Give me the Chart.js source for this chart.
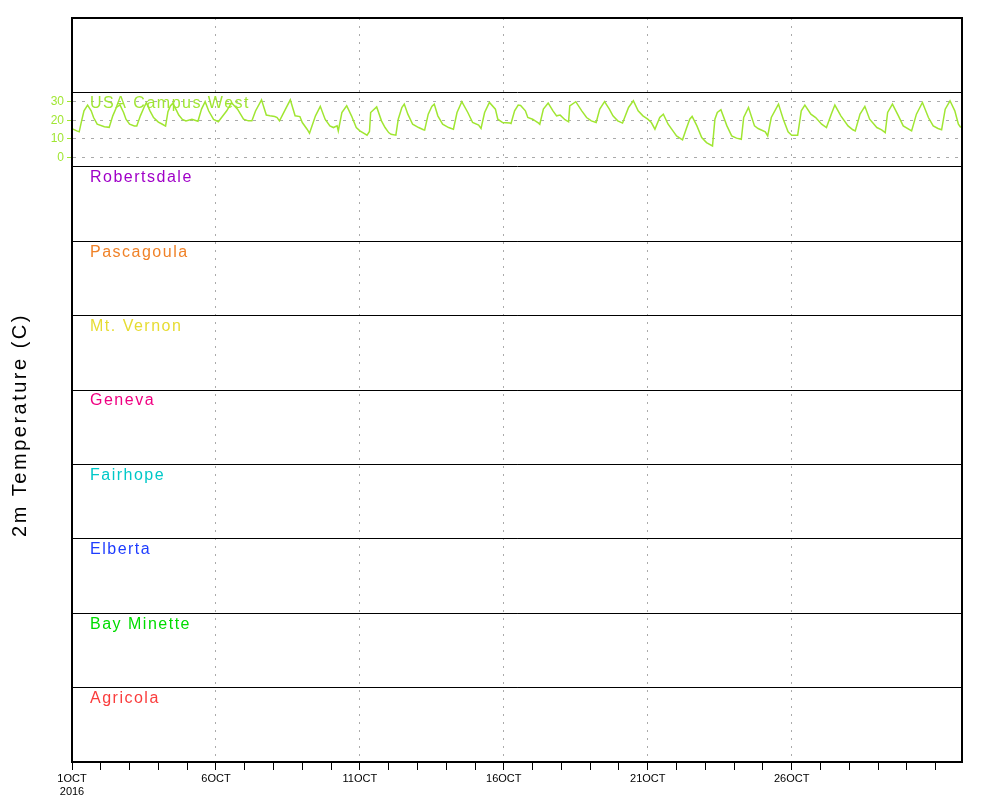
<!DOCTYPE html>
<html>
<head>
<meta charset="utf-8">
<title>2m Temperature</title>
<script src="https://cdn.jsdelivr.net/npm/chart.js@4.4.1/dist/chart.umd.min.js"></script>
<style>
  body { margin: 0; background: #fff; }
  canvas { display: block; }
</style>
</head>
<body>
<canvas id="chartTemp" width="1000" height="800"></canvas>
<script>
// Stations, top panel to bottom panel
const stations = ['USA Campus West', 'Robertsdale', 'Pascagoula', 'Mt. Vernon', 'Geneva', 'Fairhope', 'Elberta', 'Bay Minette', 'Agricola'];
const stationColors = ['rgb(160,230,50)', 'rgb(160,0,200)', 'rgb(240,130,40)', 'rgb(230,220,50)', 'rgb(240,0,130)',
    'rgb(0,200,200)', 'rgb(30,60,255)', 'rgb(0,220,0)', 'rgb(250,60,60)'];

// Hours since 1 OCT 2016 00Z and 2m temperature (C) at USA Campus West
const hours = [0, 4, 6, 8, 10, 13, 16, 18, 21, 27, 31, 34, 37, 40, 43, 45, 48, 52, 54, 57,
    60, 62, 65, 68, 72, 75, 78, 80, 82, 84, 87, 89, 92, 95, 100, 105, 108, 111, 114, 118,
    122, 129, 133, 138, 143, 147, 150, 153, 158, 162, 165, 169, 171, 173, 178, 182, 186, 190, 192, 196,
    198, 203, 207, 211, 215, 218, 221, 222, 225, 229, 233, 237, 240, 246, 248, 249, 254, 258, 261, 264,
    266, 270, 272, 275, 277, 280, 284, 289, 293, 294, 297, 300, 302, 305, 309, 314, 318, 321, 325, 330,
    334, 339, 341, 344, 348, 353, 355, 359, 365, 366, 369, 372, 374, 378, 380, 384, 389, 390, 393, 397,
    401, 404, 407, 411, 414, 415, 420, 425, 429, 433, 437, 440, 444, 448, 451, 455, 459, 464, 468, 472,
    476, 480, 483, 486, 490, 493, 497, 501, 504, 509, 512, 515, 517, 521, 525, 529, 534, 536, 538, 541,
    546, 550, 554, 558, 560, 564, 569, 572, 578, 580, 583, 589, 593, 597, 600, 605, 608, 611, 616, 620,
    625, 629, 633, 636, 641, 647, 651, 653, 657, 661, 665, 671, 675, 678, 680, 684, 689, 693, 700, 704,
    709, 714, 718, 722, 725, 728, 732, 736, 739, 741];
const usaTemp = [15.5, 14.3, 13.8, 19.7, 25.1, 28.2, 25.1, 21.5, 17.9, 16.5, 16.2, 22.4, 26.9, 28.3, 24.2, 20.6, 17.9, 17.0, 17.0, 22.4,
    26.9, 29.5, 25.1, 21.5, 19.0, 18.0, 16.9, 24.6, 27.7, 29.1, 25.5, 22.8, 20.5, 19.6, 20.5, 19.5, 26.0, 30.0, 25.0, 20.5,
    19.2, 25.1, 29.5, 26.0, 20.6, 19.7, 19.7, 25.0, 31.0, 22.8, 22.4, 22.0, 21.5, 19.7, 26.0, 31.0, 22.4, 22.0, 18.8, 15.2,
    13.1, 22.4, 27.5, 20.6, 17.0, 16.1, 17.0, 14.3, 24.2, 27.8, 22.4, 16.1, 14.3, 12.0, 14.0, 24.2, 27.2, 19.7, 16.1, 13.4,
    12.5, 12.0, 20.6, 26.9, 28.7, 23.3, 17.9, 16.1, 14.9, 14.7, 23.3, 27.5, 28.7, 22.4, 17.9, 16.1, 15.2, 24.2, 30.0, 24.2,
    18.8, 17.4, 15.6, 24.2, 29.6, 26.0, 20.6, 18.8, 18.5, 18.3, 25.1, 28.2, 28.0, 25.1, 21.5, 20.6, 18.5, 17.9, 26.0, 29.3,
    25.1, 22.4, 22.8, 20.3, 19.2, 27.8, 30.0, 25.1, 21.5, 19.7, 18.8, 26.0, 30.0, 26.0, 22.4, 19.7, 18.5, 26.9, 30.5, 25.1,
    22.4, 20.6, 18.8, 15.2, 21.5, 23.3, 17.9, 14.3, 11.6, 9.5, 15.2, 20.6, 22.1, 17.0, 10.7, 8.0, 6.2, 20.6, 24.2, 25.7,
    17.0, 11.6, 10.4, 9.8, 21.5, 26.9, 17.0, 15.6, 13.8, 11.6, 21.5, 28.7, 20.6, 13.8, 12.0, 12.0, 25.1, 28.2, 23.3, 21.5,
    17.9, 16.1, 23.3, 28.2, 22.4, 17.0, 14.9, 14.3, 23.3, 27.5, 20.6, 16.1, 14.9, 13.4, 24.2, 28.7, 22.4, 17.0, 14.3, 23.3,
    29.6, 21.5, 17.0, 15.6, 14.9, 26.0, 30.5, 25.1, 17.9, 16.1];

// Tick labels
const yTicks = [0, 10, 20, 30];
const xLabelHours = [0, 120, 240, 360, 480, 600];
const xTickLabels = ['1OCT', '6OCT', '11OCT', '16OCT', '21OCT', '26OCT'];
const yearLabel = '2016';
const yTitle = '2m Temperature (C)';

const FONT = '"Liberation Sans", Arial, sans-serif';
const GRID_GRAY = 'rgb(170,170,170)';
const axisIds = stations.map((_, i) => 'y' + i);

// Stacked axes: one band per station plus an empty band on top
const scales = {
    x: {
        type: 'linear',
        min: 0,
        max: 742,
        afterBuildTicks: (scale) => {
            const ticks = [];
            for (let h = 0; h <= 742; h += 24) ticks.push({ value: h });
            scale.ticks = ticks;
        },
        afterFit: (scale) => { scale.height = 38; },
        ticks: {
            autoSkip: false,
            maxRotation: 0,
            padding: 2,
            color: '#000',
            font: { family: FONT, size: 11 },
            callback: (value) => {
                const i = xLabelHours.indexOf(value);
                if (i < 0) return '';
                return i === 0 ? [xTickLabels[0], yearLabel] : xTickLabels[i];
            }
        },
        grid: {
            color: (ctx) => (ctx.tick && ctx.tick.value > 0 && xLabelHours.includes(ctx.tick.value)) ? GRID_GRAY : 'rgba(0,0,0,0)',
            tickColor: '#000',
            tickLength: 8,
            lineWidth: 1
        },
        border: { color: '#000', width: 2, dash: [2, 6] }
    }
};

// bottom band first; Chart.js places the last one on top
for (let i = stations.length - 1; i >= 0; i--) {
    const id = axisIds[i];
    if (i === 0) {
        scales[id] = {
            type: 'linear',
            position: 'left',
            stack: 'bands',
            stackWeight: 1,
            min: -5,
            max: 35,
            afterBuildTicks: (scale) => { scale.ticks = yTicks.map(v => ({ value: v })); },
            afterFit: (scale) => { scale.width = 40; },
            ticks: { autoSkip: false, color: stationColors[0], padding: 3, font: { family: FONT, size: 12 } },
            grid: { color: GRID_GRAY, tickColor: stationColors[0], tickLength: 5 },
            border: { color: '#000', width: 2, dash: [3, 6] }
        };
    } else {
        scales[id] = {
            type: 'linear',
            position: 'left',
            stack: 'bands',
            stackWeight: 1,
            min: 0,
            max: 1,
            afterBuildTicks: (scale) => { scale.ticks = [{ value: 0 }, { value: 1 }]; },
            afterFit: (scale) => { scale.width = 40; },
            ticks: { display: false },
            grid: { color: '#000', drawTicks: false },
            border: { color: '#000', width: 2 }
        };
    }
}
scales.yTop = {
    type: 'linear',
    position: 'left',
    stack: 'bands',
    stackWeight: 1,
    min: 0,
    max: 1,
    afterBuildTicks: (scale) => { scale.ticks = [{ value: 0 }, { value: 1 }]; },
    afterFit: (scale) => { scale.width = 40; },
    ticks: { display: false },
    grid: { color: '#000', drawTicks: false },
    border: { color: '#000', width: 2 }
};

// Frame, station names and y title
const panelText = {
    id: 'panelText',
    afterDraw(chart) {
        const { ctx, chartArea } = chart;
        ctx.save();
        ctx.strokeStyle = '#000';
        ctx.lineWidth = 2;
        ctx.strokeRect(chartArea.left, chartArea.top, chartArea.right - chartArea.left, chartArea.bottom - chartArea.top);

        ctx.font = '16px ' + FONT;
        ctx.letterSpacing = '1.5px';
        ctx.textBaseline = 'middle';
        ctx.textAlign = 'left';
        stations.forEach((name, i) => {
            const scale = chart.scales[axisIds[i]];
            ctx.fillStyle = stationColors[i];
            ctx.fillText(name, chartArea.left + 18, scale.top + 11);
        });

        ctx.font = '20px ' + FONT;
        ctx.letterSpacing = '2.5px';
        ctx.fillStyle = '#000';
        ctx.textAlign = 'center';
        ctx.translate(20, (chartArea.top + chartArea.bottom) / 2 + 35);
        ctx.rotate(-Math.PI / 2);
        ctx.fillText(yTitle, 0, 0);
        ctx.restore();
    }
};

const ctxTemp = document.getElementById('chartTemp').getContext('2d');
const chartTemp = new Chart(ctxTemp, {
    type: 'line',
    data: {
        datasets: [{
            label: stations[0],
            data: hours.map((h, i) => ({ x: h, y: usaTemp[i] })),
            xAxisID: 'x',
            yAxisID: axisIds[0],
            borderColor: stationColors[0],
            borderWidth: 1.5,
            pointRadius: 0,
            tension: 0,
            fill: false
        }]
    },
    options: {
        responsive: false,
        animation: false,
        devicePixelRatio: 1,
        layout: { padding: { left: 32, top: 18, right: 38, bottom: 0 } },
        plugins: {
            legend: { display: false },
            tooltip: { enabled: false }
        },
        scales: scales
    },
    plugins: [panelText]
});
</script>
</body>
</html>
